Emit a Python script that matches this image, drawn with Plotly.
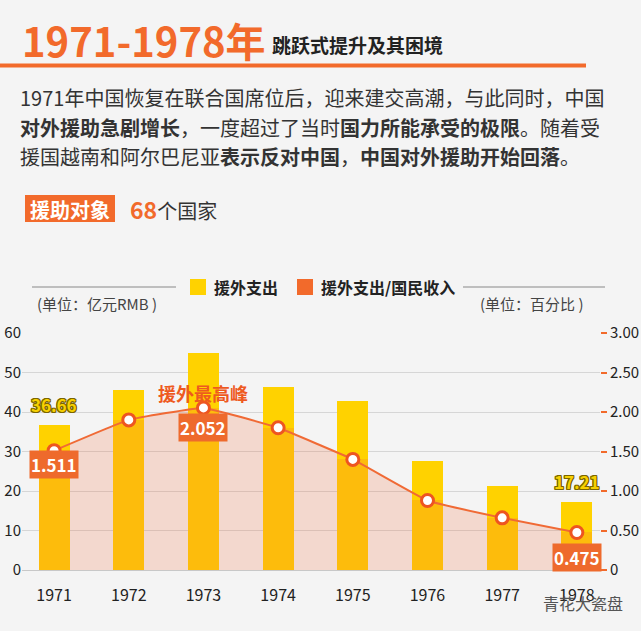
import plotly.graph_objects as go

# 数据
years = [1971, 1972, 1973, 1974, 1975, 1976, 1977, 1978]
aid_spending = [36.66, 45.6, 55.0, 46.3, 42.8, 27.6, 21.3, 17.21]  # 亿元RMB
aid_ratio = [1.511, 1.90, 2.052, 1.80, 1.40, 0.88, 0.66, 0.475]  # 百分比
left_ticks = [0, 10, 20, 30, 40, 50, 60]
right_ticks = [0, 0.5, 1.0, 1.5, 2.0, 2.5, 3.0]
right_ticktext = ["0", "0.50", "1.00", "1.50", "2.00", "2.50", "3.00"]

ORANGE = "#F26A2B"
YELLOW = "#FFD200"
YELLOW_DARK = "#FDBC0C"
BG = "#F4F4F4"
FONT = "Noto Sans CJK SC"

W, H = 641, 631
L, R, T, B = 22, 41, 333, 61
LEFT_MAX, RIGHT_MAX = 60, 3.0


def px(x):
    return (x - L) / (W - L - R)


def py(y):
    return (H - B - y) / (H - T - B)


# 柱子在折线以下的部分颜色更深
scale = LEFT_MAX / RIGHT_MAX
lower = [min(v, r * scale) for v, r in zip(aid_spending, aid_ratio)]
upper = [v - lo for v, lo in zip(aid_spending, lower)]

fig = go.Figure()

# 面积（画在柱子下面）
fig.add_trace(go.Scatter(
    x=years, y=aid_ratio, yaxis="y", mode="lines", line=dict(width=0, shape="spline", smoothing=0.3),
    fill="tozeroy", fillcolor="rgba(240,106,53,0.2)", showlegend=False, hoverinfo="skip",
))
fig.add_trace(go.Bar(
    x=years, y=lower, width=0.415, marker=dict(color=YELLOW_DARK, line_width=0),
    yaxis="y2", showlegend=False,
))
fig.add_trace(go.Bar(
    x=years, y=upper, width=0.415, marker=dict(color=YELLOW, line_width=0),
    yaxis="y2", showlegend=False,
))
fig.add_trace(go.Scatter(
    x=years, y=aid_ratio, yaxis="y3", mode="lines+markers",
    line=dict(color="#F06A35", width=2, shape="spline", smoothing=0.3),
    marker=dict(size=12, color="white", line=dict(color="#EE5520", width=3)),
    showlegend=False,
))

shapes = [
    dict(type="line", xref="paper", yref="paper", x0=px(0), x1=px(586), y0=py(65.5), y1=py(65.5),
         line=dict(color=ORANGE, width=4)),
    dict(type="rect", xref="paper", yref="paper", x0=px(25), x1=px(115), y0=py(222), y1=py(195),
         fillcolor=ORANGE, line_width=0),
    dict(type="line", xref="paper", yref="paper", x0=px(32), x1=px(176), y0=py(287), y1=py(287),
         line=dict(color="#888", width=1)),
    dict(type="line", xref="paper", yref="paper", x0=px(463), x1=px(605), y0=py(287), y1=py(287),
         line=dict(color="#888", width=1)),
    dict(type="rect", xref="paper", yref="paper", x0=px(190), x1=px(206), y0=py(295), y1=py(279),
         fillcolor=YELLOW, line_width=0),
    dict(type="rect", xref="paper", yref="paper", x0=px(297), x1=px(313), y0=py(295), y1=py(279),
         fillcolor=ORANGE, line_width=0),
]

annotations = []


def note(x, y, text, size, color="#333", anchor="left"):
    annotations.append(dict(
        xref="paper", yref="paper", x=px(x), y=py(y), text=text, showarrow=False,
        xanchor=anchor, yanchor="middle", font=dict(family=FONT, size=size, color=color),
    ))


note(20, 40, "<b>1971-1978年</b>", 40, ORANGE)
note(270, 44, "<b>跳跃式提升及其困境</b>", 19, "#222")
note(18, 98, "1971年中国恢复在联合国席位后，迎来建交高潮，与此同时，中国", 20)
note(18, 127, "<b>对外援助急剧增长</b>，一度超过了当时<b>国力所能承受的极限</b>。随着受", 20)
note(18, 156, "援国越南和阿尔巴尼亚<b>表示反对中国</b>，<b>中国对外援助开始回落</b>。", 20)
note(70, 209, "<b>援助对象</b>", 20, "white", "center")
note(128, 209, '<b><span style="color:%s;font-size:23px">68</span></b>个国家' % ORANGE, 20)
note(212, 287, "<b>援外支出</b>", 16, "#222")
note(319, 287, "<b>援外支出/国民收入</b>", 16, "#222")
note(35, 303, "(单位：亿元RMB )", 15, "#444")
note(478, 303, "(单位：百分比 )", 15, "#444")
note(541, 603, "青花大瓷盘", 16, "#555")

outline = ", ".join("%dpx %dpx 0 #7A6500" % (dx, dy) for dx, dy in [(1, 1), (-1, -1), (1, -1), (-1, 1), (1, 0), (-1, 0), (0, 1), (0, -1)])
for i in (0, 7):
    annotations.append(dict(
        x=years[i], y=aid_spending[i], xref="x", yref="y2", text="<b>%.2f</b>" % aid_spending[i],
        showarrow=False, yshift=21, font=dict(family=FONT, size=17, color="#F7D000", shadow=outline),
    ))

for i, shift in ((0, -14), (2, -20), (7, -25)):
    annotations.append(dict(
        x=years[i], y=aid_ratio[i], xref="x", yref="y3", text="<b>%s</b>" % aid_ratio[i],
        showarrow=False, yshift=shift, bgcolor="#EE6A2C", borderpad=1,
        font=dict(family=FONT, size=17, color="white"),
    ))

annotations.append(dict(
    x=years[2], y=py(378), xref="x", yref="paper", text="<b>援外最高峰</b>", showarrow=False,
    font=dict(family=FONT, size=18, color="#EE5A1F"),
))

fig.update_layout(
    width=W, height=H,
    margin=dict(l=L, r=R, t=T, b=B, autoexpand=False),
    paper_bgcolor=BG, plot_bgcolor=BG,
    font=dict(family=FONT, color="#222"),
    barmode="stack",
    bargap=0,
    shapes=shapes,
    annotations=annotations,
    xaxis=dict(
        range=[1970.57, 1978.31], tickvals=years, ticktext=[str(y) for y in years],
        showgrid=False, zeroline=False, showline=False, ticks="", automargin=False,
        ticklabelstandoff=14, tickfont=dict(size=16, color="#222"),
    ),
    # 百分比轴（右），网格线也由它画
    yaxis=dict(
        range=[0, RIGHT_MAX], side="right", tickvals=right_ticks, ticktext=right_ticktext,
        showgrid=True, gridcolor="#D6D6D6", gridwidth=1,
        zeroline=True, zerolinecolor="#C8C8C8", zerolinewidth=1, showline=False, automargin=False,
        ticks="outside", ticklen=6, tickwidth=1.5, tickcolor=ORANGE, ticklabelstandoff=0,
        tickfont=dict(size=15, color="#222"),
    ),
    # 亿元轴（左）
    yaxis2=dict(
        range=[0, LEFT_MAX], overlaying="y", side="left", tickvals=left_ticks,
        showgrid=False, zeroline=False, showline=False, automargin=False,
        ticks="", ticklabelstandoff=0, tickfont=dict(size=15, color="#222"),
    ),
    yaxis3=dict(range=[0, RIGHT_MAX], overlaying="y", side="right", visible=False),
)

fig.write_html("out.html", config={"displayModeBar": False},
               post_script="document.body.style.margin='0';")
